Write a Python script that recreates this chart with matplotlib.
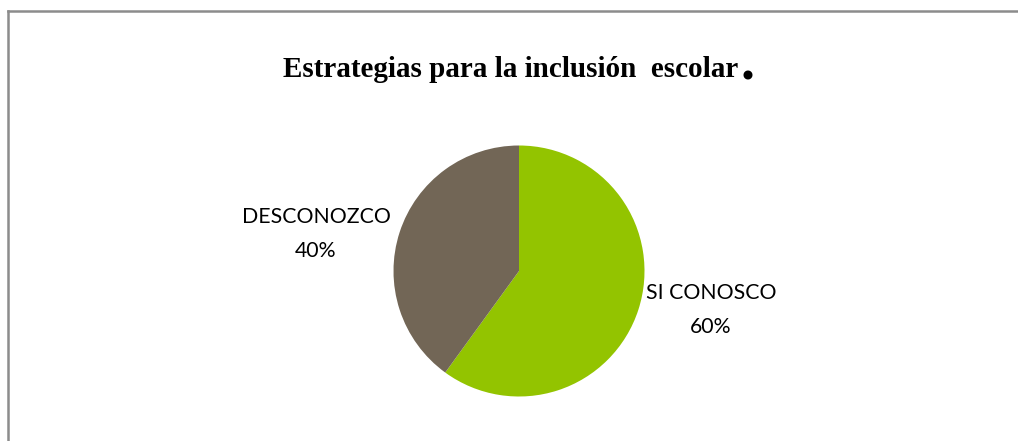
import matplotlib
matplotlib.use("Agg")
import matplotlib.pyplot as plt
from matplotlib.lines import Line2D

categories = ["SI CONOSCO", "DESCONOZCO"]
values = [60, 40]
colors = ["#93C400", "#726656"]
title = "Estrategias para la inclusión  escolar"

W, H = 1018, 441
fig = plt.figure(figsize=(W / 100, H / 100), dpi=100)
fig.patch.set_facecolor("white")

def fx(px):
    return px / W

def fy(py):
    return 1 - py / H

# border (open on right and bottom, as in the reference crop)
fig.add_artist(Line2D([fx(7.5), fx(7.5)], [fy(11), fy(441)], color="#8c8c8c", lw=1.8, transform=fig.transFigure))
fig.add_artist(Line2D([fx(7.5), fx(1018)], [fy(11), fy(11)], color="#8c8c8c", lw=1.8, transform=fig.transFigure))

# pie
cx, cy, r = 519, 271, 125.5
ax = fig.add_axes([fx(cx - r), fy(cy + r), (2 * r) / W, (2 * r) / H])
ax.pie(values, colors=colors, startangle=90, counterclock=False, radius=1,
       wedgeprops=dict(linewidth=0))
ax.set_xlim(-1, 1)
ax.set_ylim(-1, 1)
ax.set_aspect("auto")
ax.axis("off")

label_font = dict(family=["Lato", "DejaVu Sans"], fontsize=15.3, color="black",
                  ha="center", va="center", linespacing=1.87)
pos = {"SI CONOSCO": (711, 310), "DESCONOZCO": (316, 234)}
for cat, v in zip(categories, values):
    x, y = pos[cat]
    fig.text(fx(x), fy(y), f"{cat}\n{v}%", **label_font)

# title
t = fig.text(fx(283), fy(77), title, family="Liberation Serif", weight="bold",
             fontsize=21, ha="left", va="baseline")
fig.canvas.draw()
bb = t.get_window_extent()
fig.text((bb.x1 + 2) / W, fy(79), ".", family="Liberation Serif", weight="bold",
         fontsize=40, ha="left", va="baseline")

fig.savefig("out.png", dpi=100, facecolor="white")
